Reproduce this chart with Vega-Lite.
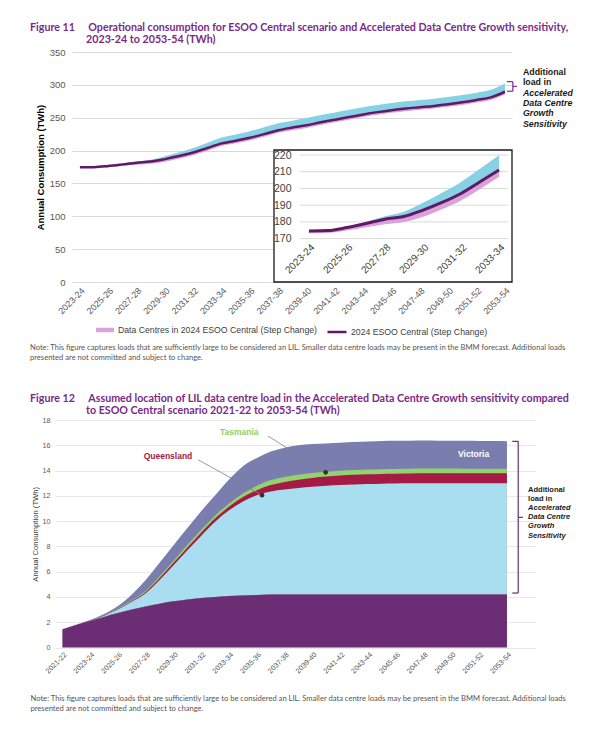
{
  "$schema": "https://vega.github.io/schema/vega-lite/v6.json",
  "background": "white",
  "padding": {"left": 30, "top": 22, "right": 0, "bottom": 0},
  "config": {
    "view": {"stroke": null},
    "font": "Liberation Sans",
    "axis": {"labelFont": "Liberation Sans", "titleFont": "Liberation Sans", "labelOverlap": false},
    "legend": {"labelFont": "Liberation Sans", "labelLimit": 0, "layout": {"bottom": {"anchor": "middle", "direction": "horizontal", "margin": 9}}}
  },
  "datasets": {
    "f11": [
      {"year":2023,"esoo":174.6,"accel":174.7,"dc":173.2},
      {"year":2024,"esoo":174.8,"accel":175.0,"dc":173.4},
      {"year":2025,"esoo":176.6,"accel":176.8,"dc":174.8},
      {"year":2026,"esoo":179.0,"accel":180.0,"dc":176.8},
      {"year":2027,"esoo":181.6,"accel":183.3,"dc":178.6},
      {"year":2028,"esoo":183.2,"accel":186.0,"dc":179.9},
      {"year":2029,"esoo":187.0,"accel":191.4,"dc":183.0},
      {"year":2030,"esoo":191.6,"accel":197.4,"dc":187.6},
      {"year":2031,"esoo":197.0,"accel":203.9,"dc":192.8},
      {"year":2032,"esoo":204.0,"accel":211.8,"dc":199.7},
      {"year":2033,"esoo":211.0,"accel":219.8,"dc":207.0},
      {"year":2034,"esoo":215.0,"accel":224.5,"dc":211.0},
      {"year":2035,"esoo":219.5,"accel":229.5,"dc":215.5},
      {"year":2036,"esoo":225.0,"accel":235.3,"dc":221.0},
      {"year":2037,"esoo":231.0,"accel":241.5,"dc":227.0},
      {"year":2038,"esoo":235.0,"accel":245.5,"dc":231.0},
      {"year":2039,"esoo":238.5,"accel":249.5,"dc":234.5},
      {"year":2040,"esoo":243.0,"accel":254.0,"dc":239.0},
      {"year":2041,"esoo":247.0,"accel":258.0,"dc":243.0},
      {"year":2042,"esoo":251.0,"accel":262.0,"dc":247.0},
      {"year":2043,"esoo":255.0,"accel":266.0,"dc":251.0},
      {"year":2044,"esoo":258.5,"accel":269.5,"dc":254.5},
      {"year":2045,"esoo":261.5,"accel":272.5,"dc":257.5},
      {"year":2046,"esoo":264.0,"accel":275.0,"dc":260.0},
      {"year":2047,"esoo":266.0,"accel":277.0,"dc":262.0},
      {"year":2048,"esoo":268.0,"accel":279.0,"dc":264.0},
      {"year":2049,"esoo":270.5,"accel":281.5,"dc":266.5},
      {"year":2050,"esoo":273.5,"accel":284.5,"dc":269.5},
      {"year":2051,"esoo":277.0,"accel":288.0,"dc":273.0},
      {"year":2052,"esoo":281.0,"accel":292.5,"dc":277.0},
      {"year":2053,"esoo":289.5,"accel":302.0,"dc":285.5}
    ],
    "f12": [
      {"year":2021,"base":1.45,"nsw":1.45,"qld":1.45,"tas":1.45,"vic":1.45},
      {"year":2022,"base":1.8,"nsw":1.8,"qld":1.8,"tas":1.8,"vic":1.8},
      {"year":2023,"base":2.1,"nsw":2.12,"qld":2.13,"tas":2.14,"vic":2.17},
      {"year":2024,"base":2.42,"nsw":2.5,"qld":2.52,"tas":2.54,"vic":2.65},
      {"year":2025,"base":2.72,"nsw":3.0,"qld":3.04,"tas":3.08,"vic":3.28},
      {"year":2026,"base":3.0,"nsw":3.62,"qld":3.68,"tas":3.74,"vic":4.2},
      {"year":2027,"base":3.25,"nsw":4.3,"qld":4.4,"tas":4.5,"vic":5.35},
      {"year":2028,"base":3.47,"nsw":5.35,"qld":5.5,"tas":5.64,"vic":6.7},
      {"year":2029,"base":3.65,"nsw":6.5,"qld":6.7,"tas":6.87,"vic":8.1},
      {"year":2030,"base":3.8,"nsw":7.7,"qld":7.92,"tas":8.12,"vic":9.45},
      {"year":2031,"base":3.92,"nsw":8.85,"qld":9.1,"tas":9.32,"vic":10.8},
      {"year":2032,"base":4.0,"nsw":9.95,"qld":10.22,"tas":10.45,"vic":12.05},
      {"year":2033,"base":4.07,"nsw":10.85,"qld":11.15,"tas":11.4,"vic":13.3},
      {"year":2034,"base":4.12,"nsw":11.55,"qld":11.9,"tas":12.18,"vic":14.35},
      {"year":2035,"base":4.16,"nsw":12.05,"qld":12.45,"tas":12.8,"vic":15.0},
      {"year":2036,"base":4.19,"nsw":12.35,"qld":12.85,"tas":13.25,"vic":15.5},
      {"year":2037,"base":4.2,"nsw":12.5,"qld":13.1,"tas":13.5,"vic":15.8},
      {"year":2038,"base":4.2,"nsw":12.62,"qld":13.28,"tas":13.66,"vic":16.0},
      {"year":2039,"base":4.2,"nsw":12.72,"qld":13.42,"tas":13.8,"vic":16.1},
      {"year":2040,"base":4.2,"nsw":12.8,"qld":13.52,"tas":13.9,"vic":16.15},
      {"year":2041,"base":4.2,"nsw":12.85,"qld":13.6,"tas":13.98,"vic":16.2},
      {"year":2042,"base":4.2,"nsw":12.9,"qld":13.66,"tas":14.04,"vic":16.25},
      {"year":2043,"base":4.2,"nsw":12.93,"qld":13.7,"tas":14.08,"vic":16.3},
      {"year":2044,"base":4.2,"nsw":12.96,"qld":13.73,"tas":14.11,"vic":16.33},
      {"year":2045,"base":4.2,"nsw":12.98,"qld":13.75,"tas":14.13,"vic":16.35},
      {"year":2046,"base":4.2,"nsw":13.0,"qld":13.77,"tas":14.15,"vic":16.36},
      {"year":2047,"base":4.2,"nsw":13.0,"qld":13.78,"tas":14.16,"vic":16.37},
      {"year":2048,"base":4.2,"nsw":13.0,"qld":13.78,"tas":14.16,"vic":16.36},
      {"year":2049,"base":4.2,"nsw":13.0,"qld":13.78,"tas":14.16,"vic":16.35},
      {"year":2050,"base":4.2,"nsw":13.0,"qld":13.78,"tas":14.15,"vic":16.35},
      {"year":2051,"base":4.2,"nsw":13.0,"qld":13.78,"tas":14.15,"vic":16.34},
      {"year":2052,"base":4.2,"nsw":13.0,"qld":13.78,"tas":14.15,"vic":16.33},
      {"year":2053,"base":4.2,"nsw":13.0,"qld":13.78,"tas":14.15,"vic":16.32}
    ]
  },
  "resolve": {"legend": {"fill": "independent", "stroke": "independent"}},
  "spacing": 6,
  "vconcat": [
    {
      "title": {
        "text": ["Figure 11\u2003\u2002Operational consumption for ESOO Central scenario and Accelerated Data Centre Growth sensitivity,", "\u200b\u2003\u2003\u2003\u2003\u2003\u2003\u2002\u00a02023-24 to 2053-54 (TWh)"],
        "anchor": "start", "frame": "group", "dx": -42,
        "font": "Lato", "fontSize": 10.7, "fontWeight": "bold", "color": "#7a2a86", "lineHeight": 12, "offset": 1
      },
      "width": 440,
      "height": 230,
      "resolve": {"scale": {"x": "independent", "y": "independent"}, "legend": {"fill": "independent", "stroke": "independent"}},
      "layer": [
        {
          "data": {"name": "f11"},
          "encoding": {
            "x": {"field": "year", "type": "quantitative",
              "scale": {"domain": [2022.44, 2053.5], "nice": false, "zero": false},
              "axis": {"values": [2023,2025,2027,2029,2031,2033,2035,2037,2039,2041,2043,2045,2047,2049,2051,2053],
                "labelExpr": "datum.value + '-' + substring('' + (datum.value + 1), 2)",
                "labelAngle": -45, "labelFontSize": 9, "labelColor": "#595959", "labelPadding": 4, "labelOverlap": false,
                "grid": false, "domain": false, "ticks": false, "title": null}},
            "y": {"field": "esoo", "type": "quantitative",
              "scale": {"domain": [0, 350], "nice": false, "zero": true},
              "axis": {"values": [0,50,100,150,200,250,300,350], "grid": true, "gridColor": "#d9d9d9", "labelOverlap": false,
                "domain": false, "ticks": false, "labelFontSize": 9.5, "labelColor": "#595959", "labelPadding": 7,
                "title": "Annual Consumption (TWh)", "titleFontSize": 9.5, "titleFontWeight": "bold", "titleColor": "#000000", "titlePadding": 4}}
          },
          "layer": [
            {
              "mark": {"type": "area", "interpolate": "monotone"},
              "encoding": {
                "y2": {"field": "dc"},
                "fill": {"datum": "Data Centres in 2024 ESOO Central (Step Change)",
                  "scale": {"range": ["#d9a3d9"]},
                  "legend": {"orient": "bottom", "title": null, "symbolType": "M-1,-0.25L1,-0.25L1,0.25L-1,0.25Z",
                    "symbolSize": 324, "symbolStrokeWidth": 0, "labelFontSize": 8.7, "labelColor": "#404040", "labelOffset": 4, "offset": 5, "labelLimit": 0}}
              }
            },
            {
              "mark": {"type": "area", "interpolate": "monotone", "color": "#86d1e3"},
              "encoding": {"y2": {"field": "accel"}}
            },
            {
              "mark": {"type": "line", "interpolate": "monotone", "strokeWidth": 2.5},
              "encoding": {
                "stroke": {"datum": "2024 ESOO Central (Step Change)",
                  "scale": {"range": ["#5f1966"]},
                  "legend": {"orient": "bottom", "title": null, "symbolType": "stroke", "symbolSize": 361,
                    "symbolStrokeWidth": 2.5, "labelFontSize": 8.7, "labelColor": "#404040", "labelOffset": 3, "offset": 5, "labelLimit": 0}}
              }
            },
            {
              "transform": [{"filter": "datum.year == 2053"}],
              "mark": {"type": "rect", "fill": "white", "stroke": "#1a1a1a", "strokeWidth": 1.3},
              "encoding": {
                "x": {"datum": 2036.70, "type": "quantitative"}, "x2": {"datum": 2053.5},
                "y": {"datum": 200.87, "type": "quantitative"}, "y2": {"datum": 0}
              }
            },
            {
              "transform": [{"filter": "datum.year == 2053"}],
              "mark": {"type": "rule", "color": "#d9d9d9", "strokeWidth": 1},
              "encoding": {"x": {"datum": 2038.53, "type": "quantitative"}, "x2": {"datum": 2053.21}, "y": {"datum": 66.04, "type": "quantitative"}}
            },
            {
              "transform": [{"filter": "datum.year == 2053"}],
              "mark": {"type": "rule", "color": "#d9d9d9", "strokeWidth": 1},
              "encoding": {"x": {"datum": 2038.53, "type": "quantitative"}, "x2": {"datum": 2053.21}, "y": {"datum": 91.49, "type": "quantitative"}}
            },
            {
              "transform": [{"filter": "datum.year == 2053"}],
              "mark": {"type": "rule", "color": "#d9d9d9", "strokeWidth": 1},
              "encoding": {"x": {"datum": 2038.53, "type": "quantitative"}, "x2": {"datum": 2053.21}, "y": {"datum": 116.93, "type": "quantitative"}}
            },
            {
              "transform": [{"filter": "datum.year == 2053"}],
              "mark": {"type": "rule", "color": "#d9d9d9", "strokeWidth": 1},
              "encoding": {"x": {"datum": 2038.53, "type": "quantitative"}, "x2": {"datum": 2053.21}, "y": {"datum": 142.37, "type": "quantitative"}}
            },
            {
              "transform": [{"filter": "datum.year == 2053"}],
              "mark": {"type": "rule", "color": "#d9d9d9", "strokeWidth": 1},
              "encoding": {"x": {"datum": 2038.53, "type": "quantitative"}, "x2": {"datum": 2053.21}, "y": {"datum": 167.82, "type": "quantitative"}}
            },
            {
              "transform": [{"filter": "datum.year == 2053"}],
              "mark": {"type": "rule", "color": "#d9d9d9", "strokeWidth": 1},
              "encoding": {"x": {"datum": 2038.53, "type": "quantitative"}, "x2": {"datum": 2053.21}, "y": {"datum": 193.26, "type": "quantitative"}}
            },
            {
              "transform": [{"filter": "datum.year == 2053"}],
              "mark": {"type": "rule", "color": "#7a2a86", "strokeWidth": 1.2},
              "encoding": {
                "x": {"datum": 2053.56, "type": "quantitative"},
                "y": {"datum": 304.9, "type": "quantitative"},
                "y2": {"datum": 290.3}
              }
            },
            {
              "transform": [{"filter": "datum.year == 2053"}],
              "mark": {"type": "rule", "color": "#7a2a86", "strokeWidth": 1.2},
              "encoding": {
                "x": {"datum": 2053.14, "type": "quantitative"},
                "x2": {"datum": 2053.56},
                "y": {"datum": 304.9, "type": "quantitative"}
              }
            },
            {
              "transform": [{"filter": "datum.year == 2053"}],
              "mark": {"type": "rule", "color": "#7a2a86", "strokeWidth": 1.2},
              "encoding": {
                "x": {"datum": 2053.14, "type": "quantitative"},
                "x2": {"datum": 2053.56},
                "y": {"datum": 290.3, "type": "quantitative"}
              }
            },
            {
              "transform": [{"filter": "datum.year == 2053"}],
              "mark": {"type": "rule", "color": "#7a2a86", "strokeWidth": 1.2},
              "encoding": {
                "x": {"datum": 2053.56, "type": "quantitative"},
                "x2": {"datum": 2053.84},
                "y": {"datum": 297.6, "type": "quantitative"}
              }
            },
            {
              "transform": [{"filter": "datum.year == 2053"}],
              "mark": {"type": "text", "align": "left", "baseline": "alphabetic", "font": "Liberation Sans", "fontSize": 8.8, "fontWeight": "bold", "lineHeight": 10.3, "color": "#1a1a1a"},
              "encoding": {
                "x": {"datum": 2054.27, "type": "quantitative"},
                "y": {"datum": 314.7, "type": "quantitative"},
                "text": {"value": ["Additional", "load in"]}
              }
            },
            {
              "transform": [{"filter": "datum.year == 2053"}],
              "mark": {"type": "text", "align": "left", "baseline": "alphabetic", "font": "Liberation Sans", "fontSize": 8.8, "fontWeight": "bold", "fontStyle": "italic", "lineHeight": 10.3, "color": "#1a1a1a"},
              "encoding": {
                "x": {"datum": 2054.27, "type": "quantitative"},
                "y": {"datum": 283.3, "type": "quantitative"},
                "text": {"value": ["Accelerated", "Data Centre", "Growth", "Sensitivity"]}
              }
            }
          ]
        },
        {
          "data": {"name": "f11"},
          "transform": [{"filter": "datum.year <= 2033"}],
          "encoding": {
            "x": {"field": "year", "type": "quantitative",
              "scale": {"domain": [2022.53, 2033.47], "range": [228, 436], "nice": false, "zero": false},
              "axis": {"orient": "bottom", "offset": -43, "zindex": 1, "values": [2023,2025,2027,2029,2031,2033],
                "labelExpr": "datum.value + '-' + substring('' + (datum.value + 1), 2)",
                "labelAngle": -45, "labelFontSize": 10, "labelColor": "#404040", "labelPadding": 3, "labelOverlap": false,
                "grid": false, "domain": false, "ticks": false, "title": null}},
            "y": {"field": "esoo", "type": "quantitative",
              "scale": {"domain": [170, 220], "range": [186.6, 103], "nice": false, "zero": false},
              "axis": {"orient": "left", "offset": -228, "zindex": 1, "values": [170,180,190,200,210,220], "grid": false, "labelOverlap": false,
                "domain": false, "ticks": false, "labelFontSize": 10.5, "labelColor": "#404040", "labelPadding": 9, "title": null}}
          },
          "layer": [
            {
              "mark": {"type": "area", "interpolate": "monotone", "color": "#d9a3d9"},
              "encoding": {"y2": {"field": "dc"}}
            },
            {
              "mark": {"type": "area", "interpolate": "monotone", "color": "#86d1e3"},
              "encoding": {"y2": {"field": "accel"}}
            },
            {
              "mark": {"type": "line", "interpolate": "monotone", "strokeWidth": 3, "color": "#5f1966"}
            }
          ]
        }
      ]
    },
    {
      "title": {
        "text": ["Note: This figure captures loads that are sufficiently large to be considered an LIL. Smaller data centre loads may be present in the BMM forecast. Additional loads", "presented are not committed and subject to change."],
        "subtitle": ["Figure 12\u2003\u2002Assumed location of LIL data centre load in the Accelerated Data Centre Growth sensitivity compared", "\u200b\u2003\u2003\u2003\u2003\u2003\u2003\u2002\u00a0to ESOO Central scenario 2021-22 to 2053-54 (TWh)"],
        "anchor": "start", "frame": "group", "dx": -42,
        "font": "Lato", "fontSize": 7.6, "fontWeight": "normal", "color": "#555555", "lineHeight": 10,
        "subtitleFont": "Lato", "subtitleFontSize": 10.7, "subtitleFontWeight": "bold", "subtitleColor": "#7a2a86",
        "subtitleLineHeight": 12, "subtitlePadding": 33, "offset": 0
      },
      "width": 464,
      "height": 227.5,
      "data": {"name": "f12"},
      "encoding": {
        "x": {"field": "year", "type": "quantitative",
          "scale": {"domain": [2020.47, 2055.09], "range": [-17, 464], "nice": false, "zero": false},
          "axis": {"values": [2021,2023,2025,2027,2029,2031,2033,2035,2037,2039,2041,2043,2045,2047,2049,2051,2053],
            "labelExpr": "datum.value + '-' + substring('' + (datum.value + 1), 2)",
            "labelAngle": -45, "labelFontSize": 7.2, "labelColor": "#595959", "labelPadding": 3, "labelOverlap": false,
            "grid": false, "domain": false, "ticks": false,
            "title": ["Note: This figure captures loads that are sufficiently large to be considered an LIL. Smaller data centre loads may be present in the BMM forecast. Additional loads", "presented are not committed and subject to change."],
            "titleX": -42, "titleY": 53, "titleAlign": "left", "titleAnchor": "start", "titleBaseline": "alphabetic",
            "titleFont": "Lato", "titleFontSize": 7.6, "titleFontWeight": "normal", "titleColor": "#555555", "titleLineHeight": 10}},
        "y": {"field": "base", "type": "quantitative",
          "scale": {"domain": [0, 18], "nice": false, "zero": true},
          "axis": {"values": [0,2,4,6,8,10,12,14,16,18], "grid": true, "gridColor": "#e8e8e8", "labelOverlap": false, "offset": 17,
            "domain": false, "ticks": false, "labelFontSize": 7.2, "labelColor": "#595959", "labelPadding": 5,
            "title": "Annual Consumption (TWh)", "titleFontSize": 7.7, "titleFontWeight": "normal", "titleColor": "#404040", "titlePadding": 3}}
      },
      "layer": [
        {
          "mark": {"type": "area", "interpolate": "monotone", "color": "#7a7eae"},
          "encoding": {"y2": {"field": "vic"}}
        },
        {
          "mark": {"type": "area", "interpolate": "monotone", "color": "#93d26d"},
          "encoding": {"y2": {"field": "tas"}}
        },
        {
          "mark": {"type": "area", "interpolate": "monotone", "color": "#a51b45"},
          "encoding": {"y2": {"field": "qld"}}
        },
        {
          "mark": {"type": "area", "interpolate": "monotone", "color": "#a9def0"},
          "encoding": {"y2": {"field": "nsw"}}
        },
        {
          "mark": {"type": "area", "interpolate": "monotone", "color": "#6b2d74"}
        },
        {
          "transform": [{"filter": "datum.year == 2053"}],
          "mark": {"type": "rule", "color": "#808080", "strokeWidth": 0.8},
          "encoding": {
            "x": {"datum": 2030.78, "type": "quantitative"}, "x2": {"datum": 2035.37},
            "y": {"datum": 14.85, "type": "quantitative"}, "y2": {"datum": 12.05}
          }
        },
        {
          "transform": [{"filter": "datum.year == 2053"}],
          "mark": {"type": "rule", "color": "#808080", "strokeWidth": 0.8},
          "encoding": {
            "x": {"datum": 2035.8, "type": "quantitative"}, "x2": {"datum": 2039.95},
            "y": {"datum": 16.73, "type": "quantitative"}, "y2": {"datum": 13.86}
          }
        },
        {
          "transform": [{"filter": "datum.year == 2053"}],
          "mark": {"type": "point", "filled": true, "color": "#333333", "size": 22, "opacity": 1},
          "encoding": {
            "x": {"datum": 2035.37, "type": "quantitative"},
            "y": {"datum": 12.05, "type": "quantitative"}
          }
        },
        {
          "transform": [{"filter": "datum.year == 2053"}],
          "mark": {"type": "point", "filled": true, "color": "#333333", "size": 22, "opacity": 1},
          "encoding": {
            "x": {"datum": 2039.95, "type": "quantitative"},
            "y": {"datum": 13.86, "type": "quantitative"}
          }
        },
        {
          "transform": [{"filter": "datum.year == 2053"}],
          "mark": {"type": "text", "align": "center", "baseline": "middle", "font": "Liberation Sans", "fontSize": 8.5, "fontWeight": "bold", "color": "#ffffff"},
          "encoding": {
            "x": {"datum": 2050.6, "type": "quantitative"},
            "y": {"datum": 15.3, "type": "quantitative"},
            "text": {"value": "Victoria"}
          }
        },
        {
          "transform": [{"filter": "datum.year == 2053"}],
          "mark": {"type": "text", "align": "center", "baseline": "middle", "font": "Liberation Sans", "fontSize": 8.5, "fontWeight": "bold", "color": "#a51b45"},
          "encoding": {
            "x": {"datum": 2028.6, "type": "quantitative"},
            "y": {"datum": 15.15, "type": "quantitative"},
            "text": {"value": "Queensland"}
          }
        },
        {
          "transform": [{"filter": "datum.year == 2053"}],
          "mark": {"type": "text", "align": "center", "baseline": "middle", "font": "Liberation Sans", "fontSize": 8.5, "fontWeight": "bold", "color": "#8fd06a"},
          "encoding": {
            "x": {"datum": 2033.73, "type": "quantitative"},
            "y": {"datum": 17.05, "type": "quantitative"},
            "text": {"value": "Tasmania"}
          }
        },
        {
          "transform": [{"filter": "datum.year == 2053"}],
          "mark": {"type": "rule", "color": "#6b2d74", "strokeWidth": 1.2},
          "encoding": {
            "x": {"datum": 2053.81, "type": "quantitative"},
            "y": {"datum": 16.31, "type": "quantitative"}, "y2": {"datum": 4.31}
          }
        },
        {
          "transform": [{"filter": "datum.year == 2053"}],
          "mark": {"type": "rule", "color": "#6b2d74", "strokeWidth": 1.2},
          "encoding": {
            "x": {"datum": 2053.38, "type": "quantitative"}, "x2": {"datum": 2053.81},
            "y": {"datum": 16.31, "type": "quantitative"}
          }
        },
        {
          "transform": [{"filter": "datum.year == 2053"}],
          "mark": {"type": "rule", "color": "#6b2d74", "strokeWidth": 1.2},
          "encoding": {
            "x": {"datum": 2053.38, "type": "quantitative"}, "x2": {"datum": 2053.81},
            "y": {"datum": 4.31, "type": "quantitative"}
          }
        },
        {
          "transform": [{"filter": "datum.year == 2053"}],
          "mark": {"type": "rule", "color": "#6b2d74", "strokeWidth": 1.2},
          "encoding": {
            "x": {"datum": 2053.81, "type": "quantitative"}, "x2": {"datum": 2054.15},
            "y": {"datum": 10.3, "type": "quantitative"}
          }
        },
        {
          "transform": [{"filter": "datum.year == 2053"}],
          "mark": {"type": "text", "align": "left", "baseline": "alphabetic", "font": "Liberation Sans", "fontSize": 7.5, "fontWeight": "bold", "lineHeight": 9.1, "color": "#1a1a1a"},
          "encoding": {
            "x": {"datum": 2054.52, "type": "quantitative"},
            "y": {"datum": 12.3, "type": "quantitative"},
            "text": {"value": ["Additional", "load in"]}
          }
        },
        {
          "transform": [{"filter": "datum.year == 2053"}],
          "mark": {"type": "text", "align": "left", "baseline": "alphabetic", "font": "Liberation Sans", "fontSize": 7.5, "fontWeight": "bold", "fontStyle": "italic", "lineHeight": 9.1, "color": "#1a1a1a"},
          "encoding": {
            "x": {"datum": 2054.52, "type": "quantitative"},
            "y": {"datum": 10.86, "type": "quantitative"},
            "text": {"value": ["Accelerated", "Data Centre", "Growth", "Sensitivity"]}
          }
        }
      ]
    }
  ]
}
